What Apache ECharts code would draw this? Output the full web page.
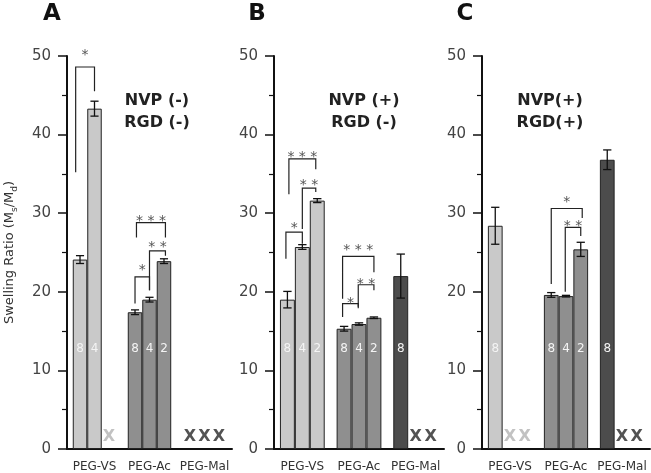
<!DOCTYPE html>
<html lang="en">
<head>
<meta charset="UTF-8">
<title>Swelling ratio</title>
<script src="https://cdn.jsdelivr.net/npm/echarts@6/dist/echarts.min.js"></script>
<style>
  html, body { margin: 0; background: #fff; }
  #main { width: 651px; height: 473px; }
</style>
</head>
<body>
<div id="main"></div>
<script>
// categories and arm numbers (8-, 4-, 2-arm PEG)
var categories = ['PEG-VS', 'PEG-Ac', 'PEG-Mal'];
var arms = ['8', '4', '2'];
var panelNames = ['A', 'B', 'C'];
var conditions = ['NVP (-)\nRGD (-)', 'NVP (+)\nRGD (-)', 'NVP(+)\nRGD(+)'];

// mean swelling ratio, rows = category, cols = 8/4/2 arm; null = no gel (X)
var meanA = [[24.1, 43.3, null], [17.4, 19.0, 23.9], [null, null, null]];
var errA  = [[0.5, 0.95, 0], [0.3, 0.3, 0.3], [0, 0, 0]];
var meanB = [[19.0, 25.7, 31.6], [15.3, 15.9, 16.7], [22.0, null, null]];
var errB  = [[1.05, 0.3, 0.25], [0.3, 0.15, 0.1], [2.8, 0, 0]];
var meanC = [[28.4, null, null], [19.6, 19.45, 25.4], [36.8, null, null]];
var errC  = [[2.35, 0, 0], [0.3, 0.1, 0.9], [1.25, 0, 0]];

// significance brackets: [category, from slot, to slot, top, left end, right end, star centre, stars]
var bracketsA = [
  [0, -0.3, 1.0, 48.6, 35.2, 45.5, 50.6, 1],
  [1, 0.1, 2.1, 28.8, 26.9, 26.9, 29.5, 3],
  [1, 1.0, 2.1, 25.2, 20.2, 24.6, 26.1, 2],
  [1, 0.0, 1.0, 21.9, 18.5, 20.2, 23.2, 1]
];
var bracketsB = [
  [0, 0.1, 1.9, 36.9, 32.4, 35.6, 37.6, 3],
  [0, 1.0, 1.9, 33.2, 28.0, 32.7, 34.0, 2],
  [0, -0.1, 1.0, 27.6, 24.2, 26.1, 28.6, 1],
  [1, -0.1, 2.0, 24.5, 19.1, 22.5, 25.8, 3],
  [1, 0.95, 2.0, 20.9, 18.1, 20.2, 21.4, 2],
  [1, -0.1, 0.95, 18.5, 16.8, 17.9, 19.0, 1]
];
var bracketsC = [
  [1, 0.0, 2.1, 30.6, 21.0, 29.4, 31.9, 1],
  [1, 0.95, 2.0, 28.2, 20.0, 27.1, 28.8, 2]
];
var starText = ['', '*', '* *', '* * *'];

var barColors = ['#c9c9c9', '#8f8f8f', '#4c4c4c'];
var xColors = ['#c2c2c2', '#8a8a8a', '#535353'];
var gapRatio = 0.21;
var labelLevel = 12.8;
var FONT = '"DejaVu Sans", sans-serif';

var panels = [
  { mean: meanA, err: errA, brackets: bracketsA, left: 64, width: 168, tx: 52, cx: 157 },
  { mean: meanB, err: errB, brackets: bracketsB, left: 274, width: 170, tx: 257, cx: 364 },
  { mean: meanC, err: errC, brackets: bracketsC, left: 482, width: 168, tx: 465, cx: 550 }
];

var chart = echarts.init(document.getElementById('main'));

function slotX(api, ci, s) {
  var band = api.size([1, 0])[0];
  var slotW = band * (1 - gapRatio) / 3;
  return [api.coord([ci, 0])[0] + (s - 1) * slotW, slotW];
}

function renderErr(params, api) {
  var ci = api.value(0), s = api.value(1), m = api.value(2), e = api.value(3);
  var sx = slotX(api, ci, s);
  var x = sx[0], cap = sx[1] * 0.28;
  var yt = api.coord([ci, m + e])[1];
  var yb = api.coord([ci, m - e])[1];
  var yl = api.coord([ci, labelLevel])[1];
  var st = { stroke: '#111', lineWidth: 1.3 };
  return {
    type: 'group',
    children: [
      { type: 'line', shape: { x1: x, y1: yt, x2: x, y2: yb }, style: st },
      { type: 'line', shape: { x1: x - cap, y1: yt, x2: x + cap, y2: yt }, style: st },
      { type: 'line', shape: { x1: x - cap, y1: yb, x2: x + cap, y2: yb }, style: st },
      { type: 'text', x: x, y: yl, style: { text: arms[s], fill: '#f4f4f4', font: '12px ' + FONT, align: 'center', verticalAlign: 'middle' } }
    ]
  };
}

function renderX(params, api) {
  var ci = api.value(0), s = api.value(1);
  var x = slotX(api, ci, s)[0];
  var y0 = api.coord([ci, 0])[1];
  return {
    type: 'text', x: x, y: y0 - 4,
    style: { text: 'X', fill: xColors[ci], font: 'bold 16px ' + FONT, align: 'center', verticalAlign: 'bottom' }
  };
}

function renderBracket(params, api) {
  var ci = api.value(0);
  var xl = slotX(api, ci, api.value(1))[0];
  var xr = slotX(api, ci, api.value(2))[0];
  var yTop = api.coord([ci, api.value(3)])[1];
  var yL = api.coord([ci, api.value(4)])[1];
  var yR = api.coord([ci, api.value(5)])[1];
  var yS = api.coord([ci, api.value(6)])[1];
  return {
    type: 'group',
    children: [
      { type: 'polyline', shape: { points: [[xl, yL], [xl, yTop], [xr, yTop], [xr, yR]] }, style: { stroke: '#222', lineWidth: 1.2, fill: null } },
      { type: 'text', x: (xl + xr) / 2, y: yS + 4, style: { text: starText[api.value(7)], fill: '#555', font: '14px ' + FONT, align: 'center', verticalAlign: 'middle' } }
    ]
  };
}

var grids = [], xAxes = [], yAxes = [], series = [], graphics = [];

panels.forEach(function (p, i) {
  grids.push({ left: p.left, width: p.width, top: 56, bottom: 22 });

  xAxes.push({
    gridIndex: i, type: 'category', data: categories, position: 'bottom',
    axisLine: { lineStyle: { color: '#111', width: 2 } },
    axisTick: { interval: 0, length: 4, lineStyle: { color: '#111', width: 1.5 } },
    axisLabel: { interval: 0, margin: 12, fontSize: 12, color: '#333', fontFamily: FONT }
  });
  xAxes.push({
    gridIndex: i, type: 'category', data: categories, position: 'bottom',
    axisLine: { show: false },
    axisTick: { interval: 0, alignWithLabel: true, length: 7, lineStyle: { color: '#111', width: 1.5 } },
    axisLabel: { show: false }
  });

  var yAxis = {
    gridIndex: i, type: 'value', min: 0, max: 50, interval: 10,
    axisLine: { show: true, lineStyle: { color: '#111', width: 2 } },
    axisTick: { show: true, length: 9, lineStyle: { color: '#111', width: 1.5 } },
    minorTick: { show: true, splitNumber: 2, length: 5, lineStyle: { color: '#111', width: 1.2 } },
    splitLine: { show: false },
    axisLabel: { margin: 16, fontSize: 15, color: '#444', fontFamily: FONT }
  };
  if (i === 0) {
    yAxis.name = 'Swelling Ratio (M{sub|s}/M{sub|d})';
    yAxis.nameLocation = 'middle';
    yAxis.nameGap = 48;
    yAxis.nameTextStyle = {
      fontSize: 13, color: '#333', fontFamily: FONT, lineHeight: 18,
      rich: { sub: { fontSize: 9, color: '#333', fontFamily: FONT, verticalAlign: 'bottom', lineHeight: 12 } }
    };
  }
  yAxes.push(yAxis);

  for (var s = 0; s < 3; s++) {
    series.push({
      type: 'bar', xAxisIndex: 2 * i, yAxisIndex: i,
      barGap: '0%', barCategoryGap: (gapRatio * 100) + '%',
      itemStyle: { borderColor: '#222', borderWidth: 1 },
      data: categories.map(function (c, ci) {
        var v = p.mean[ci][s];
        return v == null ? '-' : { value: v, itemStyle: { color: barColors[ci] } };
      })
    });
  }

  var errData = [], xData = [];
  p.mean.forEach(function (row, ci) {
    row.forEach(function (v, s) {
      if (v == null) xData.push([ci, s]);
      else errData.push([ci, s, v, p.err[ci][s]]);
    });
  });
  series.push({ type: 'custom', xAxisIndex: 2 * i, yAxisIndex: i, renderItem: renderErr, data: errData, clip: false, z: 5 });
  series.push({ type: 'custom', xAxisIndex: 2 * i, yAxisIndex: i, renderItem: renderX, data: xData, clip: false, z: 5 });
  series.push({ type: 'custom', xAxisIndex: 2 * i, yAxisIndex: i, renderItem: renderBracket, data: p.brackets, clip: false, z: 5 });

  graphics.push({
    type: 'text', x: p.tx, y: 14,
    style: { text: panelNames[i], font: 'bold 23px ' + FONT, fill: '#111', align: 'center', verticalAlign: 'middle' }
  });
  graphics.push({
    type: 'text', x: p.cx, y: 112,
    style: { text: conditions[i], font: 'bold 16px ' + FONT, fill: '#222', align: 'center', verticalAlign: 'middle', lineHeight: 22 }
  });
});

chart.setOption({
  animation: false,
  backgroundColor: '#fff',
  grid: grids,
  xAxis: xAxes,
  yAxis: yAxes,
  series: series,
  graphic: graphics
});
</script>
</body>
</html>
